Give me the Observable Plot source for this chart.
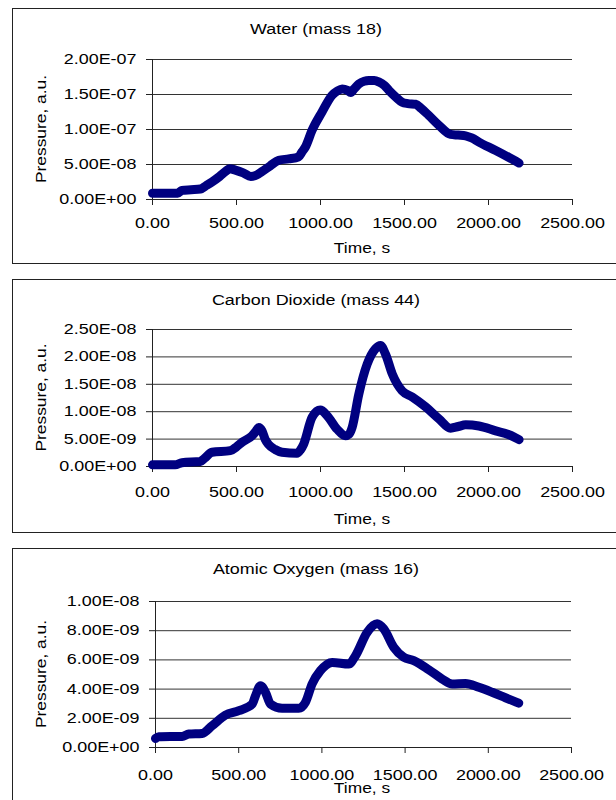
<!DOCTYPE html>
<html>
<head>
<meta charset="utf-8">
<script src="https://cdn.jsdelivr.net/npm/d3@7"></script>
<script src="https://cdn.jsdelivr.net/npm/@observablehq/plot@0.6"></script>
<style>
  html, body { margin: 0; padding: 0; background: #fff; }
  #page { position: relative; width: 616px; height: 800px; overflow: hidden; font-family: "Liberation Sans", Arial, sans-serif; }
  .box { position: absolute; left: 12px; width: 660px; border: 1px solid #222; box-sizing: border-box; }
  .chart { position: absolute; left: 0; }
</style>
</head>
<body>
<div id="page"></div>
<script>
// ---- data ----
const xTicks = [0, 500, 1000, 1500, 2000, 2500];

const waterTitle = "Water (mass 18)";
const waterT = [0, 60, 150, 175, 230, 285, 320, 354, 400, 440, 460, 493, 540, 585, 620, 652, 700, 751, 811, 870, 890, 910, 950, 1009, 1069, 1100, 1129, 1160, 1180, 1200, 1228, 1260, 1288, 1320, 1347, 1380, 1407, 1450, 1486, 1520, 1566, 1600, 1645, 1705, 1774, 1820, 1864, 1900, 1943, 2043, 2122, 2182];
const waterP = [0.9e-8, 0.9e-8, 0.9e-8, 1.3e-8, 1.4e-8, 1.5e-8, 2.0e-8, 2.5e-8, 3.3e-8, 4.1e-8, 4.4e-8, 4.2e-8, 3.8e-8, 3.3e-8, 3.5e-8, 4.0e-8, 4.8e-8, 5.6e-8, 5.8e-8, 6.1e-8, 6.8e-8, 7.5e-8, 9.9e-8, 12.5e-8, 14.9e-8, 15.5e-8, 15.8e-8, 15.6e-8, 15.3e-8, 15.8e-8, 16.5e-8, 16.9e-8, 17.0e-8, 17.0e-8, 16.8e-8, 16.3e-8, 15.6e-8, 14.6e-8, 13.9e-8, 13.7e-8, 13.6e-8, 13.0e-8, 12.0e-8, 10.6e-8, 9.3e-8, 9.2e-8, 9.1e-8, 8.8e-8, 8.2e-8, 7.0e-8, 6.0e-8, 5.2e-8];
const waterTicks = [0, 5e-8, 1e-7, 1.5e-7, 2e-7];

const co2Title = "Carbon Dioxide (mass 44)";
const co2T = [0, 135, 175, 284, 310, 354, 463, 500, 532, 592, 615, 632, 652, 670, 691, 730, 771, 860, 880, 900, 950, 999, 1039, 1099, 1148, 1170, 1188, 1228, 1278, 1327, 1357, 1387, 1427, 1486, 1546, 1625, 1705, 1774, 1820, 1864, 1943, 2043, 2122, 2182];
const co2P = [0.3e-9, 0.3e-9, 0.7e-9, 0.9e-9, 1.5e-9, 2.6e-9, 2.9e-9, 3.6e-9, 4.4e-9, 5.6e-9, 6.4e-9, 7.1e-9, 6.5e-9, 5.0e-9, 4.0e-9, 3.1e-9, 2.6e-9, 2.4e-9, 3.0e-9, 4.1e-9, 9.0e-9, 10.3e-9, 9.3e-9, 6.8e-9, 5.6e-9, 5.9e-9, 7.1e-9, 13.2e-9, 18.7e-9, 21.5e-9, 22.1e-9, 20.5e-9, 16.9e-9, 13.8e-9, 12.7e-9, 10.9e-9, 8.7e-9, 7.0e-9, 7.3e-9, 7.6e-9, 7.4e-9, 6.5e-9, 5.8e-9, 4.9e-9];
const co2Ticks = [0, 5e-9, 1e-8, 1.5e-8, 2e-8, 2.5e-8];

const oxyTitle = "Atomic Oxygen (mass 16)";
const oxyT = [0, 20, 160, 200, 280, 340, 420, 501, 581, 601, 631, 661, 691, 761, 861, 901, 941, 991, 1062, 1162, 1202, 1272, 1332, 1372, 1432, 1492, 1552, 1642, 1723, 1783, 1863, 1943, 2023, 2103, 2183];
const oxyP = [0.62e-9, 0.73e-9, 0.76e-9, 0.92e-9, 0.96e-9, 1.49e-9, 2.22e-9, 2.52e-9, 2.97e-9, 3.55e-9, 4.23e-9, 3.78e-9, 2.97e-9, 2.68e-9, 2.68e-9, 3.09e-9, 4.35e-9, 5.26e-9, 5.83e-9, 5.72e-9, 6.29e-9, 7.89e-9, 8.47e-9, 8.12e-9, 6.86e-9, 6.18e-9, 5.95e-9, 5.33e-9, 4.69e-9, 4.35e-9, 4.39e-9, 4.12e-9, 3.78e-9, 3.41e-9, 3.04e-9];
const oxyTicks = [0, 2e-9, 4e-9, 6e-9, 8e-9, 1e-8];

const xLabel = "Time, s";
const yLabel = "Pressure, a.u.";

// ---- helpers ----
function sci(v) {
  const [m, e] = v.toExponential(2).split("e");
  const n = +e;
  return m + "E" + (n < 0 ? "-" : "+") + String(Math.abs(n)).padStart(2, "0");
}
function stretch(nodes, r) {
  nodes.forEach(function (el) {
    const L = el.getComputedTextLength();
    if (L > 0) {
      el.setAttribute("textLength", L * r);
      el.setAttribute("lengthAdjust", "spacingAndGlyphs");
    }
  });
}

const page = document.getElementById("page");
const W = 616;
const FONT = "Liberation Sans, Arial, sans-serif";

function panel(cfg) {
  const box = document.createElement("div");
  box.className = "box";
  box.style.top = cfg.top + "px";
  box.style.height = cfg.boxH + "px";
  page.appendChild(box);

  const data = cfg.t.map((t, i) => ({t, p: cfg.p[i]}));
  const ymax = cfg.yTicks[cfg.yTicks.length - 1];
  const svg = Plot.plot({
    width: W,
    height: cfg.h,
    marginLeft: cfg.ml,
    marginRight: cfg.mr,
    marginTop: cfg.mt,
    marginBottom: cfg.mb,
    style: {background: "none", fontFamily: FONT, fontSize: "14px", color: "#000", overflow: "visible"},
    x: {domain: [0, 2500]},
    y: {domain: [0, ymax]},
    marks: [
      Plot.ruleY(cfg.yTicks.slice(1), {stroke: "#333", strokeWidth: 1}),
      Plot.ruleX([0], {stroke: "#222", strokeWidth: 1}),
      Plot.ruleY([0], {stroke: "#222", strokeWidth: 1}),
      Plot.axisY({ticks: cfg.yTicks, tickFormat: sci, tickSize: 6, tickPadding: 10, label: null, stroke: "#222"}),
      Plot.axisX({ticks: xTicks, tickFormat: d => d.toFixed(2), tickSize: 6, tickPadding: cfg.xPad, label: null, stroke: "#222"}),
      Plot.line(data, {x: "t", y: "p", stroke: "#000080", strokeWidth: 9, strokeLinecap: "round", strokeLinejoin: "round", curve: "monotone-x"})
    ]
  });
  svg.classList.add("chart");
  svg.style.top = cfg.top + "px";
  page.appendChild(svg);

  const s = d3.select(svg);
  const title = s.append("text")
    .attr("x", 316).attr("y", 26)
    .attr("text-anchor", "middle")
    .attr("font-size", 14).attr("font-family", FONT).attr("fill", "#000")
    .text(cfg.title);
  const xl = s.append("text")
    .attr("x", 362).attr("y", 245)
    .attr("text-anchor", "middle")
    .attr("font-size", 14).attr("font-family", FONT).attr("fill", "#000")
    .text(xLabel);
  const yl = s.append("text")
    .attr("transform", `translate(46,${cfg.mt + (cfg.h - cfg.mt - cfg.mb) / 2}) rotate(-90)`)
    .attr("text-anchor", "middle")
    .attr("font-size", 14).attr("font-family", FONT).attr("fill", "#000")
    .text(yLabel);

  stretch(Array.from(svg.querySelectorAll('g[aria-label$="tick label"] text')), 1.28);
  stretch([title.node()], 1.28);
  stretch([xl.node(), yl.node()], 1.24);
}

panel({top: 8, boxH: 256, h: 256, mt: 51, mb: 65, ml: 152, mr: 44, xPad: 13, title: waterTitle, t: waterT, p: waterP, yTicks: waterTicks});
panel({top: 279, boxH: 254, h: 254, mt: 50, mb: 67, ml: 152, mr: 44, xPad: 15, title: co2Title, t: co2T, p: co2P, yTicks: co2Ticks});
panel({top: 548, boxH: 300, h: 262, mt: 53, mb: 63, ml: 155, mr: 45, xPad: 17, title: oxyTitle, t: oxyT, p: oxyP, yTicks: oxyTicks});
</script>
</body>
</html>
